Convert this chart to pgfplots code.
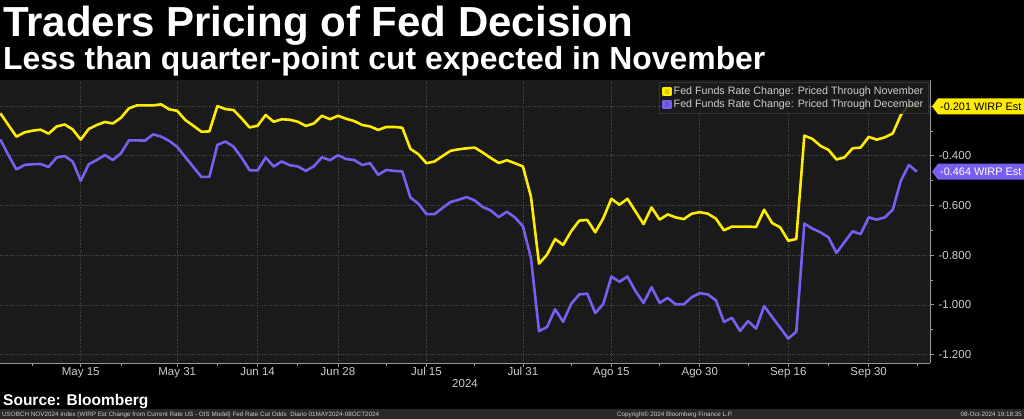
\documentclass[border=0pt]{standalone}
\usepackage{fontspec}
\setmainfont{Liberation Sans}
\usepackage{pgfplots}
\usepackage{pgfplotstable}
\usetikzlibrary{calc}
\pgfplotsset{compat=1.18}

\definecolor{nov}{RGB}{255,236,0}
\definecolor{dec}{RGB}{122,94,240}
\definecolor{plotbg}{RGB}{26,26,26}
\definecolor{gridc}{RGB}{78,78,78}
\definecolor{tickc}{RGB}{205,205,205}
\definecolor{footbg}{RGB}{40,40,40}

% business-day index (0 = 01 May 2024) vs. WIRP change
\pgfplotstableread{
d v
0 -0.229
1 -0.276
2 -0.323
3 -0.306
4 -0.299
5 -0.295
6 -0.311
7 -0.282
8 -0.274
9 -0.294
10 -0.335
11 -0.292
12 -0.276
13 -0.264
14 -0.270
15 -0.247
16 -0.209
17 -0.197
18 -0.197
19 -0.197
20 -0.193
21 -0.213
22 -0.219
23 -0.256
24 -0.279
25 -0.303
26 -0.302
27 -0.200
28 -0.212
29 -0.216
30 -0.249
31 -0.286
32 -0.279
33 -0.236
34 -0.263
35 -0.253
36 -0.255
37 -0.263
38 -0.280
39 -0.270
40 -0.239
41 -0.253
42 -0.239
43 -0.251
44 -0.260
45 -0.276
46 -0.282
47 -0.296
48 -0.284
49 -0.284
50 -0.287
51 -0.372
52 -0.394
53 -0.430
54 -0.423
55 -0.401
56 -0.380
57 -0.374
58 -0.370
59 -0.367
60 -0.387
61 -0.409
62 -0.429
63 -0.418
64 -0.430
65 -0.443
66 -0.565
67 -0.834
68 -0.798
69 -0.735
70 -0.759
71 -0.704
72 -0.661
73 -0.658
74 -0.708
75 -0.651
76 -0.573
77 -0.597
78 -0.573
79 -0.624
80 -0.675
81 -0.608
82 -0.657
83 -0.636
84 -0.648
85 -0.655
86 -0.633
87 -0.627
88 -0.633
89 -0.653
90 -0.700
91 -0.685
92 -0.685
93 -0.685
94 -0.687
95 -0.617
96 -0.671
97 -0.688
98 -0.742
99 -0.735
100 -0.319
101 -0.332
102 -0.360
103 -0.376
104 -0.415
105 -0.406
106 -0.370
107 -0.367
108 -0.324
109 -0.335
110 -0.326
111 -0.310
112 -0.236
113 -0.195
114 -0.201
}\novdata

\pgfplotstableread{
d v
0 -0.334
1 -0.397
2 -0.455
3 -0.437
4 -0.434
5 -0.433
6 -0.445
7 -0.407
8 -0.401
9 -0.423
10 -0.501
11 -0.434
12 -0.417
13 -0.397
14 -0.417
15 -0.390
16 -0.338
17 -0.338
18 -0.339
19 -0.314
20 -0.323
21 -0.340
22 -0.364
23 -0.405
24 -0.445
25 -0.485
26 -0.485
27 -0.356
28 -0.343
29 -0.363
30 -0.407
31 -0.458
32 -0.459
33 -0.407
34 -0.443
35 -0.423
36 -0.438
37 -0.443
38 -0.461
39 -0.442
40 -0.406
41 -0.418
42 -0.398
43 -0.413
44 -0.417
45 -0.437
46 -0.430
47 -0.477
48 -0.457
49 -0.461
50 -0.463
51 -0.568
52 -0.593
53 -0.635
54 -0.635
55 -0.610
56 -0.586
57 -0.577
58 -0.566
59 -0.580
60 -0.606
61 -0.620
62 -0.647
63 -0.625
64 -0.648
65 -0.684
66 -0.812
67 -1.106
68 -1.089
69 -1.018
70 -1.068
71 -0.996
72 -0.958
73 -0.955
74 -1.033
75 -0.996
76 -0.886
77 -0.907
78 -0.886
79 -0.945
80 -0.992
81 -0.929
82 -0.992
83 -0.972
84 -0.998
85 -0.998
86 -0.969
87 -0.953
88 -0.958
89 -0.982
90 -1.069
91 -1.052
92 -1.105
93 -1.065
94 -1.096
95 -1.005
96 -1.049
97 -1.092
98 -1.136
99 -1.108
100 -0.673
101 -0.693
102 -0.708
103 -0.728
104 -0.791
105 -0.747
106 -0.704
107 -0.715
108 -0.648
109 -0.657
110 -0.648
111 -0.617
112 -0.501
113 -0.437
114 -0.464
}\decdata

\begin{document}
\begin{tikzpicture}
\fill[black] (0pt,0pt) rectangle (1024pt,419pt);
\fill[footbg] (0pt,0pt) rectangle (1024pt,9.5pt);

\node[anchor=base west, inner sep=0, text=white, font=\bfseries\fontsize{42}{44}\selectfont] at (3pt,382pt) {Traders Pricing of Fed Decision};
\node[anchor=base west, inner sep=0, text=white, font=\bfseries\fontsize{31.9}{33}\selectfont] at (3pt,349pt) {Less than quarter-point cut expected in November};
\node[anchor=base west, inner sep=0, text=white, font=\bfseries\fontsize{15.5}{17}\selectfont] at (3pt,13pt) {Source: Bloomberg};

\begin{axis}[
    at={(0pt,56pt)}, anchor=south west,
    scale only axis, width=930pt, height=283pt,
    xmin=-0.04, xmax=115.63,
    ymin=-1.234, ymax=-0.095,
    axis background/.style={fill=plotbg},
    axis x line*=bottom, axis y line*=right,
    axis line style={draw=gray!80, line width=0.8pt},
    xtick={10,22,32,42,53,65,76,87,98,108},
    xticklabels={May 15,May 31,Jun 14,Jun 28,Jul 15,Jul 31,Ago 15,Ago 30,Sep 16,Sep 30},
    minor xtick={4,15,27,37,48,59,71,82,93,103,114},
    ytick={-1.2,-1.0,-0.8,-0.6,-0.4},
    extra y ticks={-0.2},
    extra y tick labels={},
    minor ytick={-1.1,-0.9,-0.7,-0.5,-0.3},
    tick align=outside,
    major tick length=4pt, minor tick length=3pt,
    tick style={draw=gray!80, line width=0.8pt},
    grid=major,
    major grid style={draw=gridc, dotted, line width=0.7pt},
    extra tick style={grid=major},
    ticklabel style={text=tickc, font=\fontsize{11.5}{12}\selectfont},
    xticklabel style={yshift=3pt},
    yticklabel style={xshift=1pt},
    /pgf/number format/.cd, fixed, fixed zerofill, precision=3, assume math mode=true,
    /pgfplots/.cd,
    xlabel={2024},
    xlabel style={text=tickc, font=\fontsize{11.5}{12}\selectfont, yshift=5pt},
    legend style={at={(rel axis cs:1,1)}, anchor=north east, xshift=-2pt, yshift=-2pt,
        fill=plotbg, fill opacity=0.85, text opacity=1, draw=gray!40!black,
        text=tickc, font=\fontsize{10.7}{11}\selectfont, row sep=0pt,
        inner sep=2.5pt},
    legend cell align=left,
    legend image code/.code={\fill[#1] (0pt,-3.5pt) rectangle (7pt,3.5pt);},
    clip=false,
]
\addplot[nov, line width=2.6pt, line join=round] table[x=d, y=v] {\novdata};
\addplot[dec, line width=2.6pt, line join=round] table[x=d, y=v] {\decdata};
\legend{Fed Funds Rate Change: Priced Through November, Fed Funds Rate Change: Priced Through December}
\coordinate (tagN) at (axis cs:115.63,-0.201);
\coordinate (tagD) at (axis cs:115.63,-0.464);
\end{axis}

\fill[nov] (tagN) ++(2pt,0pt) -- ++(6pt,8pt) -- ++(86pt,0pt) -- ++(0pt,-16pt) -- ++(-86pt,0pt) -- cycle;
\node[anchor=west, inner sep=0, text=black, font=\fontsize{10.9}{11}\selectfont] at ($(tagN)+(10pt,0pt)$) {-0.201 WIRP Est};
\fill[dec] (tagD) ++(2pt,0pt) -- ++(6pt,8pt) -- ++(86pt,0pt) -- ++(0pt,-16pt) -- ++(-86pt,0pt) -- cycle;
\node[anchor=west, inner sep=0, text=white, font=\fontsize{10.9}{11}\selectfont] at ($(tagD)+(10pt,0pt)$) {-0.464 WIRP Est};

\node[anchor=base west, inner sep=0, text=tickc, font=\fontsize{6.3}{7}\selectfont] at (2pt,2.8pt) {USOBCH NOV2024 Index (WIRP Est Change from Current Rate US - OIS Model) Fed Rate Cut Odds\ \ Diario 01MAY2024-08OCT2024};
\node[anchor=base, inner sep=0, text=tickc, font=\fontsize{6.3}{7}\selectfont] at (675pt,2.8pt) {Copyright\textcopyright{} 2024 Bloomberg Finance L.P.};
\node[anchor=base east, inner sep=0, text=tickc, font=\fontsize{6.3}{7}\selectfont] at (1022pt,2.8pt) {08-Oct-2024 19:18:35};

\pgfresetboundingbox
\useasboundingbox (0pt,0pt) rectangle (1024pt,419pt);
\end{tikzpicture}
\end{document}
